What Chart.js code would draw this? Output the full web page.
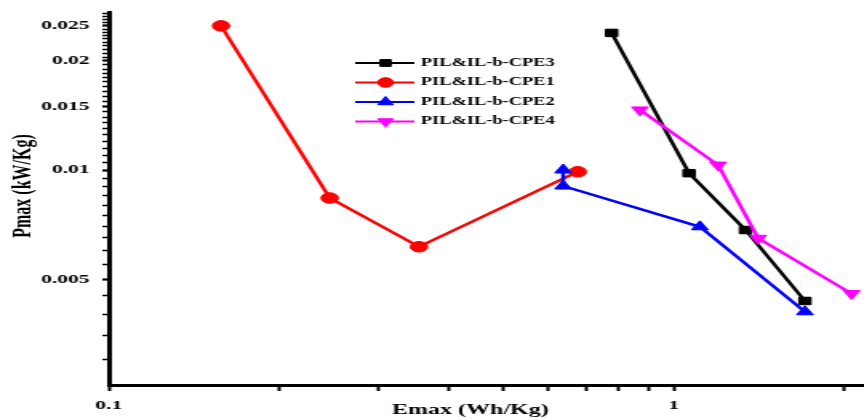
<!DOCTYPE html>
<html>
<head>
<meta charset="utf-8">
<script src="https://cdn.jsdelivr.net/npm/chart.js@4/dist/chart.umd.min.js"></script>
<style>
  html, body { margin: 0; padding: 0; background: #fff; }
</style>
</head>
<body>
<canvas id="chart" width="540" height="419" style="width:864px;height:419px;display:block"></canvas>
<script>
// Emax (Wh/Kg) vs Pmax (kW/Kg) for each electrolyte
const cpe3E = [0.776, 1.064, 1.339, 1.706];
const cpe3P = [0.0239, 0.0098, 0.00683, 0.00435];
const cpe1E = [0.158, 0.246, 0.354, 0.676];
const cpe1P = [0.025, 0.00837, 0.00614, 0.00989];
const cpe2E = [0.637, 0.637, 1.112, 1.706];
const cpe2P = [0.0100, 0.00903, 0.00697, 0.00406];
const cpe4E = [0.871, 1.198, 1.41, 2.063];
const cpe4P = [0.01465, 0.01032, 0.00648, 0.00456];

const legendNames = ['PIL&IL-b-CPE3', 'PIL&IL-b-CPE1', 'PIL&IL-b-CPE2', 'PIL&IL-b-CPE4'];

const xTicks = [0.1, 0.2, 0.3, 0.4, 0.5, 0.6, 0.7, 0.8, 0.9, 1, 2];
const xLabels = ['0.1', '1'];
const yLabels = ['0.005', '0.01', '0.015', '0.02', '0.025'];

const font = 'Liberation Serif';

const pts = (xs, ys) => xs.map((x, i) => ({ x: x, y: ys[i] }));

const series = (label, xs, ys, color, style, rot) => ({
  label: label,
  data: pts(xs, ys),
  borderColor: color,
  backgroundColor: color,
  borderWidth: 2.5,
  pointStyle: style,
  pointRotation: rot,
  pointRadius: style === 'triangle' ? 6 : 5.3,
  pointBorderWidth: 1,
  tension: 0
});

// last listed is drawn underneath
const datasets = [
  series(legendNames[3], cpe4E, cpe4P, '#ff00ff', 'triangle', 180),
  series(legendNames[2], cpe2E, cpe2P, '#0000ff', 'triangle', 0),
  series(legendNames[1], cpe1E, cpe1P, '#ff0000', 'circle', 0),
  series(legendNames[0], cpe3E, cpe3P, '#000000', 'rect', 0)
];

const fmt = v => String(Number(v.toFixed(4)));

const sideLegend = {
  id: 'sideLegend',
  afterDraw(chart) {
    const ctx = chart.ctx;
    ctx.save();
    legendNames.forEach((name, i) => {
      const ds = chart.data.datasets.find(d => d.label === name);
      const y = 63 + i * 19.5;
      ctx.strokeStyle = ds.borderColor;
      ctx.fillStyle = ds.backgroundColor;
      ctx.lineWidth = 2;
      ctx.beginPath();
      ctx.moveTo(222, y);
      ctx.lineTo(259, y);
      ctx.stroke();
      ctx.lineWidth = 1;
      Chart.helpers.drawPoint(ctx, {
        pointStyle: ds.pointStyle, rotation: ds.pointRotation,
        radius: ds.pointRadius - 0.5, borderWidth: 1
      }, 241, y);
      ctx.fillStyle = '#000';
      ctx.font = 'bold 11.5px "' + font + '"';
      ctx.textAlign = 'left';
      ctx.textBaseline = 'middle';
      ctx.fillText(name, 263, y);
    });
    ctx.restore();
  }
};

const axisTitles = {
  id: 'axisTitles',
  afterDraw(chart) {
    const ctx = chart.ctx;
    ctx.save();
    ctx.fillStyle = '#000';
    ctx.textAlign = 'center';
    ctx.textBaseline = 'middle';
    ctx.font = 'bold 15px "' + font + '"';
    ctx.fillText('Emax (Wh/Kg)', 294, 410);
    ctx.translate(15, 186);
    ctx.rotate(-Math.PI / 2);
    ctx.font = 'bold 16px "' + font + '"';
    ctx.fillText('Pmax (kW/Kg)', 0, 0);
    ctx.restore();
  }
};

new Chart(document.getElementById('chart'), {
  type: 'line',
  data: { datasets: datasets },
  options: {
    responsive: false,
    devicePixelRatio: 1,
    animation: false,
    layout: { autoPadding: false, padding: { top: 12, right: 0, bottom: 0, left: 0 } },
    plugins: { legend: { display: false }, tooltip: { enabled: false } },
    scales: {
      x: {
        type: 'logarithmic',
        min: 0.1,
        max: 2.17,
        afterBuildTicks: s => { s.ticks = xTicks.map(v => ({ value: v })); },
        afterFit: s => { s.height = 34; s.paddingRight = 0; s.paddingLeft = 0; },
        border: { display: true, color: '#000', width: 3 },
        grid: { drawOnChartArea: false, drawTicks: true, tickLength: 6, tickColor: '#000', tickWidth: 2 },
        ticks: {
          autoSkip: false,
          maxRotation: 0,
          padding: 6,
          color: '#000',
          font: { family: font, size: 13.5, weight: 'bold' },
          callback: v => xLabels.includes(fmt(v)) ? fmt(v) : ''
        }
      },
      y: {
        type: 'logarithmic',
        min: 0.00255,
        max: 0.0273,
        afterBuildTicks: s => {
          const t = [];
          for (let k = 6; k <= 54; k++) {
            const v = k * 0.0005;
            if (v >= s.min && v <= s.max) t.push({ value: v });
          }
          s.ticks = t;
        },
        afterFit: s => { s.width = 68; s.paddingTop = 0; s.paddingBottom = 0; },
        border: { display: true, color: '#000', width: 3 },
        grid: {
          drawOnChartArea: false, drawTicks: true, tickLength: 4, tickColor: '#000',
          tickWidth: c => yLabels.includes(fmt(c.tick.value)) ? 2.2 : 1.5
        },
        ticks: {
          autoSkip: false,
          padding: 8,
          color: '#000',
          font: { family: font, size: 13.5, weight: 'bold' },
          callback: v => yLabels.includes(fmt(v)) ? fmt(v) : ''
        }
      }
    }
  },
  plugins: [sideLegend, axisTitles]
});
</script>
</body>
</html>
